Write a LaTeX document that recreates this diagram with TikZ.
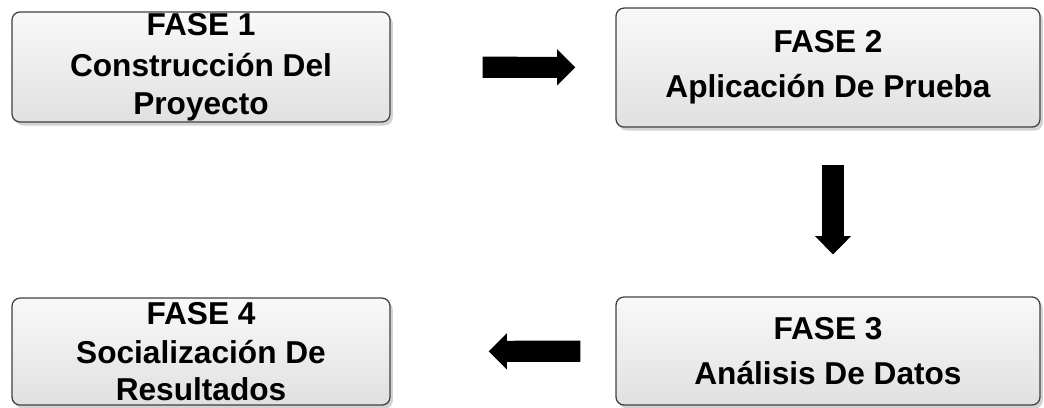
\documentclass[tikz,border=0pt]{standalone}
\usepackage{fontspec}
\setmainfont{Liberation Sans}
\usetikzlibrary{arrows.meta,shadows}
\tikzset{
  fase/.style={draw=black!75, line width=0.9pt, rounded corners=0.2cm,
    top color=gray!5, bottom color=gray!24, align=center,
    font=\bfseries\fontsize{22.5}{26.5}\selectfont, inner sep=0pt,
    drop shadow={opacity=0.35, shadow xshift=2pt, shadow yshift=-2.5pt}},
  flecha/.style={line width=15pt, -{Triangle[width=25pt, length=13pt]}}
}
\begin{document}
\begin{tikzpicture}
        \useasboundingbox (0, 0) rectangle (26.1, 10.2);
        \node[fase, minimum width=9.45cm, minimum height=2.75cm] (f1) at (5.025, 8.525)
          {FASE 1\\[3pt] Construcción Del\\ Proyecto};
        \node[fase, minimum width=10.6cm, minimum height=2.975cm] (f2) at (20.7, 8.51)
          {FASE 2\\[5.5pt] Aplicación De Prueba};
        \node[fase, minimum width=10.6cm, minimum height=2.7cm] (f3) at (20.7, 1.425)
          {FASE 3\\[5.5pt] Análisis De Datos};
        \node[fase, minimum width=9.45cm, minimum height=2.675cm] (f4) at (5.025, 1.41)
          {FASE 4\\[1pt] Socialización De\\ Resultados};
        \draw[flecha, shorten <=2.3cm, shorten >=1cm] (f1) -- (f2);
        \draw[flecha, shorten <=0.925cm, shorten >=1.05cm] ([xshift=0.125cm]f2.south) -- ([xshift=0.125cm]f3.north);
        \draw[flecha, shorten <=0.875cm, shorten >=2.45cm] (f3) -- (f4);
      \end{tikzpicture}
\end{document}
